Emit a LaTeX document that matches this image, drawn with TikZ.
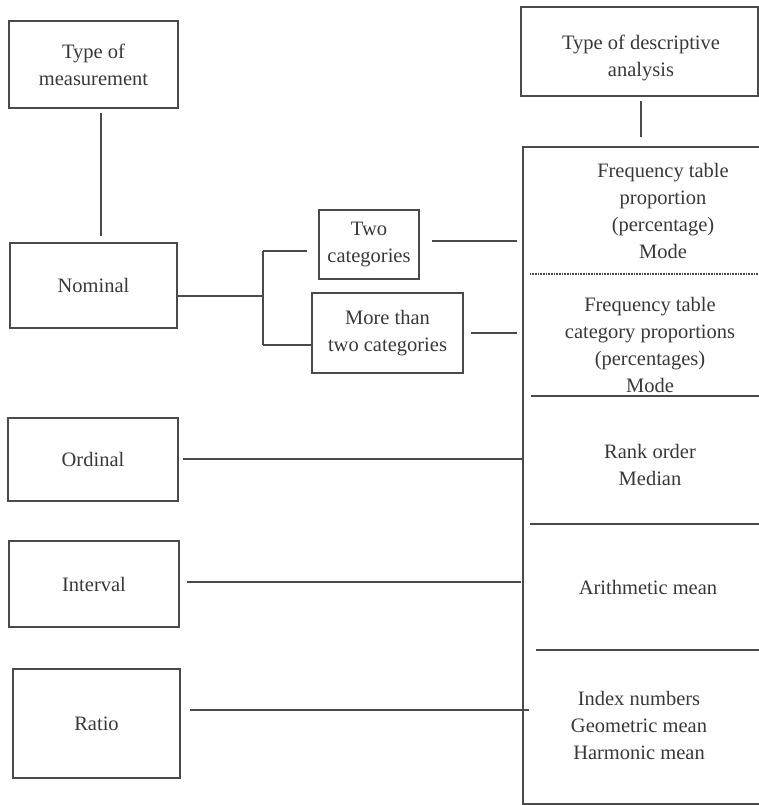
\documentclass[tikz,border=0pt]{standalone}
\usepackage{fontspec}
\setmainfont{Liberation Serif}
\definecolor{ln}{HTML}{4A4A4A}
\definecolor{tx}{HTML}{383838}
\begin{document}
\begin{tikzpicture}[x=1pt,y=-1pt,
  every node/.style={font=\fontsize{20.5}{27}\selectfont, text=tx, align=center, inner sep=0pt},
  box/.style={draw=ln, line width=1.6pt, minimum width=#1},
  conn/.style={draw=ln, line width=1.6pt},
  sep/.style={draw=ln, line width=1.6pt},
  dotsep/.style={draw=ln, line width=1.2pt, dash pattern=on 1pt off 0.6pt}]
\useasboundingbox (0,0) rectangle (759,805);
% left column
\node[box=169pt, minimum height=87pt] (tm) at (93.5,64.5) {Type of\\measurement};
\node[box=167pt, minimum height=85pt] (nom) at (93.5,285.5) {Nominal};
\node[box=170pt, minimum height=83pt] (ord) at (93,459.5) {Ordinal};
\node[box=170pt, minimum height=86pt] (int) at (94,584) {Interval};
\node[box=167pt, minimum height=109pt] (rat) at (96.5,723.5) {Ratio};
% category boxes
\node[box=100pt, minimum height=69pt] (two) at (369,244.5) {Two\\categories};
\node[box=151pt, minimum height=80pt] (more) at (387.5,333) {More than\\two categories};
% right column
\node[box=237pt, minimum height=89pt] (desc) at (639.5,51.5) {};
\node (desct) at (641,58) {Type of descriptive\\analysis};
\node[box=242pt, minimum height=657pt] (big) at (644,475.5) {};
% sections of the big box
\draw[dotsep] (530,274) -- (big.east |- 0,274);
\draw[sep] (531,396) -- (big.east |- 0,396);
\draw[sep] (530,524) -- (big.east |- 0,524);
\draw[sep] (536,650) -- (big.east |- 0,650);
\node (s1) at (663,211) {Frequency table\\proportion\\(percentage)\\Mode};
\node (s2) at (650,345) {Frequency table\\category proportions\\(percentages)\\Mode};
\node (s3) at (650,465) {Rank order\\Median};
\node (s4) at (648,587) {Arithmetic mean};
\node (s5) at (639,725) {Index numbers\\Geometric mean\\Harmonic mean};
% connectors
\draw[conn, shorten <=4pt, shorten >=6pt] ([xshift=7.5pt]tm.south) -- ([xshift=7.5pt]nom.north);
\draw[conn, shorten <=4pt, shorten >=9pt] ([xshift=1.5pt]desc.south) -- ([xshift=1.5pt]desc.south |- big.north);
\coordinate (jn) at (263,296);
\coordinate (jt) at (263,251);
\coordinate (jb) at (263,345);
\coordinate (y2) at (0,241);
\coordinate (y3) at (0,333);
\coordinate (yo) at (0,459);
\coordinate (yi) at (0,582);
\coordinate (yr) at (0,710);
\draw[conn] (nom.east |- jn) -- (jn);
\draw[conn] (jt) -- (jb);
\draw[conn, shorten >=11pt] (jt) -- (two.west |- jt);
\draw[conn] (jb) -- (more.west |- jb);
\draw[conn, shorten <=12pt, shorten >=5pt] (two.east |- y2) -- (big.west |- y2);
\draw[conn, shorten <=7pt, shorten >=5pt] (more.east |- y3) -- (big.west |- y3);
\draw[conn, shorten <=4pt] (ord.east |- yo) -- (big.west |- yo);
\draw[conn, shorten <=7pt, shorten >=1pt] (int.east |- yi) -- (big.west |- yi);
\draw[conn, shorten <=9pt, shorten >=-7pt] (rat.east |- yr) -- (big.west |- yr);
\end{tikzpicture}
\end{document}
